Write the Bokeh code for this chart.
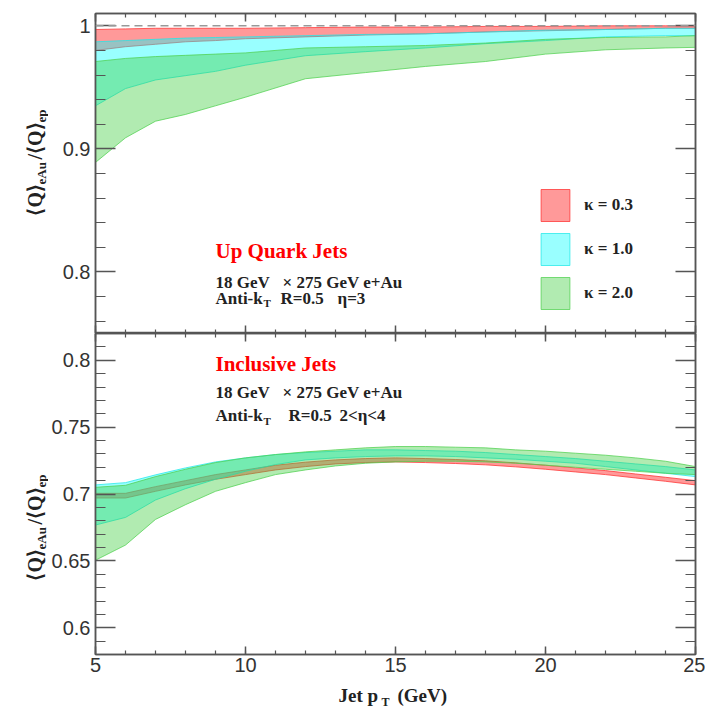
import math
from bokeh.plotting import figure
from bokeh.layouts import column, row
from bokeh.models import (Range1d, LinearAxis, SingleIntervalTicker, CustomJSTickFormatter,
                          Label, Legend, LegendItem, Span)
from bokeh.embed import file_html
from bokeh.resources import INLINE

# ---------------- data ----------------
pt_top = [5, 6, 7, 8, 9, 10, 12, 14, 16, 18, 20, 22, 24, 25]
up_k03_lo = [0.980, 0.983, 0.985, 0.987, 0.988, 0.9895, 0.991, 0.9925, 0.9935, 0.995, 0.996, 0.997, 0.998, 0.998]
up_k03_hi = [0.997, 0.9975, 0.998, 0.998, 0.998, 0.998, 0.9985, 0.999, 0.999, 0.9995, 0.9995, 1.0, 1.0, 1.0]
up_k10_lo = [0.935, 0.949, 0.956, 0.9595, 0.963, 0.968, 0.9757, 0.979, 0.982, 0.9855, 0.988, 0.991, 0.992, 0.992]
up_k10_hi = [0.987, 0.988, 0.989, 0.990, 0.9905, 0.991, 0.992, 0.993, 0.9935, 0.995, 0.9965, 0.997, 0.998, 0.998]
up_k20_lo = [0.889, 0.909, 0.9225, 0.928, 0.935, 0.942, 0.957, 0.962, 0.967, 0.971, 0.977, 0.9805, 0.982, 0.9825]
up_k20_hi = [0.971, 0.9735, 0.975, 0.976, 0.977, 0.978, 0.982, 0.983, 0.984, 0.986, 0.989, 0.9905, 0.991, 0.992]

pt_bot = [5, 6, 7, 8, 9, 10, 11, 12, 13, 14, 15, 16, 17, 18, 19, 20, 21, 22, 23, 24, 25]
inc_k03_lo = [0.697, 0.697, 0.702, 0.7068, 0.711, 0.7145, 0.718, 0.7205, 0.7225, 0.7235, 0.724, 0.7235, 0.7228, 0.7218, 0.7203, 0.7185, 0.7165, 0.7145, 0.712, 0.7095, 0.7068]
inc_k03_hi = [0.7005, 0.7005, 0.7055, 0.710, 0.7145, 0.718, 0.7215, 0.7238, 0.7255, 0.7265, 0.727, 0.7265, 0.7258, 0.7248, 0.7233, 0.7215, 0.7195, 0.7175, 0.715, 0.7125, 0.710]
inc_k10_lo = [0.6768, 0.6825, 0.6955, 0.704, 0.711, 0.717, 0.722, 0.7255, 0.727, 0.728, 0.7285, 0.7285, 0.728, 0.727, 0.726, 0.7245, 0.723, 0.7205, 0.718, 0.7155, 0.713]
inc_k10_hi = [0.7068, 0.7085, 0.7143, 0.7195, 0.724, 0.727, 0.7295, 0.731, 0.732, 0.733, 0.733, 0.7325, 0.732, 0.731, 0.7295, 0.728, 0.7265, 0.7245, 0.7225, 0.7205, 0.718]
inc_k20_lo = [0.6505, 0.6618, 0.681, 0.692, 0.702, 0.7085, 0.7145, 0.718, 0.721, 0.723, 0.724, 0.7245, 0.7245, 0.724, 0.723, 0.7215, 0.720, 0.7185, 0.717, 0.7155, 0.7145]
inc_k20_hi = [0.705, 0.7065, 0.713, 0.7185, 0.7235, 0.727, 0.7295, 0.7315, 0.733, 0.7345, 0.7355, 0.7355, 0.735, 0.7345, 0.733, 0.732, 0.7305, 0.729, 0.727, 0.7245, 0.7205]

kappa_labels = ["\u03ba = 0.3", "\u03ba = 1.0", "\u03ba = 2.0"]
fill_colors = ["#ff0000", "#00ffff", "#3ccc3c"]
edge_colors = ["#ff3030", "#20e8e8", "#50d050"]

# ---------------- styling ----------------
AX = "#555555"
TXT = "#222222"
SERIF = "Liberation Serif"
SANS = "Liberation Sans"
STRIP_W = 48
MAIN_W = 705 - STRIP_W
LEFT_B = 93 - STRIP_W
TOP_H = 333
BOT_H = 350
XL_H = 711 - TOP_H - BOT_H
MID = 0.34  # distance baseline -> middle of the text, in em


def add_axes(p, y_interval, show_x_labels):
    def base(ax, major_in, minor_in):
        ax.major_tick_in = major_in
        ax.major_tick_out = 0
        ax.minor_tick_in = minor_in
        ax.minor_tick_out = 0
        ax.axis_line_color = AX
        ax.axis_line_width = 1.5
        ax.major_tick_line_color = AX
        ax.major_tick_line_width = 1.5
        ax.minor_tick_line_color = AX
        ax.minor_tick_line_width = 1.2
        ax.major_label_text_font = SANS
        ax.major_label_text_font_size = "20px"
        ax.major_label_text_color = "#333333"

    empty = "return ''"
    yfmt = "return String(parseFloat(tick.toFixed(3)))"
    bx = LinearAxis(ticker=SingleIntervalTicker(interval=5, num_minor_ticks=5))
    base(bx, 8, 4)
    if show_x_labels:
        bx.major_label_standoff = 3
    else:
        bx.formatter = CustomJSTickFormatter(code=empty)
        bx.major_label_standoff = 0
    p.add_layout(bx, "below")
    tx = LinearAxis(ticker=SingleIntervalTicker(interval=5, num_minor_ticks=5),
                    formatter=CustomJSTickFormatter(code=empty))
    base(tx, 8, 4)
    tx.major_label_standoff = 0
    p.add_layout(tx, "above")
    ly = LinearAxis(ticker=SingleIntervalTicker(interval=y_interval, num_minor_ticks=5),
                    formatter=CustomJSTickFormatter(code=yfmt))
    base(ly, 20, 10)
    ly.major_label_standoff = 5
    p.add_layout(ly, "left")
    ry = LinearAxis(ticker=SingleIntervalTicker(interval=y_interval, num_minor_ticks=5),
                    formatter=CustomJSTickFormatter(code=empty))
    base(ry, 20, 10)
    ry.major_label_standoff = 0
    p.add_layout(ry, "right")


def make_fig(height, yr, btop, bbot, y_interval, show_x_labels):
    p = figure(width=MAIN_W, height=height, x_range=Range1d(5, 25), y_range=Range1d(*yr),
               output_backend="svg", toolbar_location=None,
               x_axis_location=None, y_axis_location=None,
               min_border_left=LEFT_B, min_border_right=10,
               min_border_top=btop, min_border_bottom=bbot)
    p.grid.visible = False
    p.outline_line_color = AX
    p.outline_line_width = 1.5
    p.background_fill_color = "white"
    p.border_fill_color = "white"
    add_axes(p, y_interval, show_x_labels)
    return p


def make_strip(w, h):
    s = figure(width=w, height=h, x_range=Range1d(0, 1), y_range=Range1d(0, 1),
               output_backend="svg", toolbar_location=None,
               x_axis_location=None, y_axis_location=None,
               min_border=0, min_border_left=0, min_border_right=0,
               min_border_top=0, min_border_bottom=0)
    s.grid.visible = False
    s.outline_line_color = None
    return s


def bands(p, x, los, his):
    rs = []
    for lo, hi, fc, ec in zip(los, his, fill_colors, edge_colors):
        xs = list(x) + list(x)[::-1]
        ys = list(lo) + list(hi)[::-1]
        r = p.patch(xs, ys, fill_color=fc, fill_alpha=0.4,
                    line_color=ec, line_alpha=0.75, line_width=1)
        rs.append(r)
    return rs


def txt(p, x, base_y, s, size, color=TXT):
    """Horizontal label; base_y is the baseline height (screen units from frame bottom)."""
    p.add_layout(Label(x=x, y=base_y + MID * size, x_units="screen", y_units="screen", text=s,
                       text_font=SERIF, text_font_style="bold", text_font_size=f"{size}px",
                       text_color=color, text_align="left", text_baseline="middle"))


def vtxt(p, base_x, y, s, size):
    """Text rotated 90 deg (reads upward); base_x is the baseline position."""
    p.add_layout(Label(x=base_x - MID * size, y=y, x_units="screen", y_units="screen", text=s,
                       text_font=SERIF, text_font_style="bold", text_font_size=f"{size}px",
                       text_color=TXT, angle=math.pi / 2, text_align="left",
                       text_baseline="middle"))


def ylabel(p, y0):
    vtxt(p, 41, y0, "\u27e8Q\u27e9", 20)
    vtxt(p, 45.5, y0 + 31, "eAu", 13)
    vtxt(p, 41, y0 + 56, "/\u27e8Q\u27e9", 20)
    vtxt(p, 45.5, y0 + 93, "ep", 13)


# ---------------- top panel ----------------
top = make_fig(TOP_H, (0.75, 1.01), 13, 0, 0.1, False)
top.add_layout(Span(location=1.0, dimension="width", line_color="#999999",
                    line_dash="8 5", line_width=1.5))
rs_top = bands(top, pt_top, [up_k03_lo, up_k10_lo, up_k20_lo], [up_k03_hi, up_k10_hi, up_k20_hi])

legend = Legend(items=[LegendItem(label=l, renderers=[r]) for l, r in zip(kappa_labels, rs_top)],
                location=(442, 20), glyph_width=36, glyph_height=40, spacing=4,
                padding=0, margin=0, label_standoff=11, border_line_color=None,
                background_fill_alpha=0, label_text_font=SERIF, label_text_font_style="bold",
                label_text_font_size="17px", label_text_color=TXT)
top.add_layout(legend)

txt(top, 120, 75.7, "Up Quark Jets", 21, color="#ff0000")
txt(top, 120, 45.3, "18 GeV", 17)
txt(top, 187, 45.3, "\u00d7 275 GeV e+Au", 17)
txt(top, 120, 29.5, "Anti-k", 17)
txt(top, 168, 26.5, "T", 11)
txt(top, 185, 29.5, "R=0.5", 17)
txt(top, 242, 29.5, "\u03b7=3", 17)

# ---------------- bottom panel ----------------
bot = make_fig(BOT_H, (0.58, 0.82), 0, BOT_H - 321, 0.05, True)
bands(bot, pt_bot, [inc_k03_lo, inc_k10_lo, inc_k20_lo], [inc_k03_hi, inc_k10_hi, inc_k20_hi])

txt(bot, 120, 283.3, "Inclusive Jets", 21, color="#ff0000")
txt(bot, 120, 256.7, "18 GeV", 17)
txt(bot, 187, 256.7, "\u00d7 275 GeV e+Au", 17)
txt(bot, 120, 233, "Anti-k", 17)
txt(bot, 168, 230, "T", 11)
txt(bot, 193, 233, "R=0.5", 17)
txt(bot, 244, 233, "2<\u03b7<4", 17)

# ---------------- axis-title strips ----------------
ystrip = make_strip(STRIP_W, 711)
ylabel(ystrip, 711 - 215)
ylabel(ystrip, 711 - 580)

# the x-title strip's frame is aligned with the panels' frames (page x = 93)
xstrip = make_strip(MAIN_W, XL_H)
txt(xstrip, 336 - 93, 10, "Jet p", 19)
txt(xstrip, 379 - 93, 5, "T", 12)
txt(xstrip, 395 - 93, 10, "(GeV)", 19)

layout = row(ystrip, column(top, bot, xstrip))
open("out.html", "w").write(file_html(layout, INLINE))
